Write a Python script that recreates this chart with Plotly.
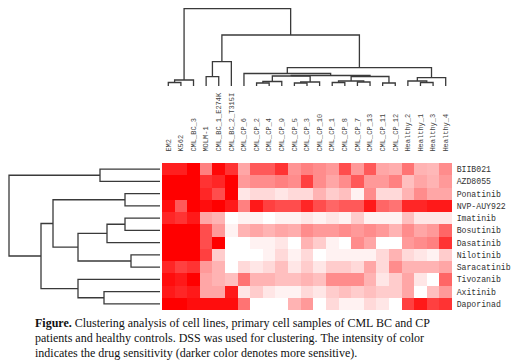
import plotly.graph_objects as go

# ---------------- data ----------------
samples = ["EM2", "K562", "CML_BC_3", "MOLM-1", "CML_BC_1_E274K", "CML_BC_2_T315I",
           "CML_CP_6", "CML_CP_2", "CML_CP_4", "CML_CP_9", "CML_CP_5", "CML_CP_3",
           "CML_CP_10", "CML_CP_1", "CML_CP_8", "CML_CP_7", "CML_CP_13", "CML_CP_11",
           "CML_CP_12", "Healthy_2", "Healthy_1", "Healthy_3", "Healthy_4"]
drugs = ["BIIB021", "AZD8055", "Ponatinib", "NVP-AUY922", "Imatinib", "Bosutinib",
         "Dasatinib", "Nilotinib", "Saracatinib", "Tivozanib", "Axitinib", "Daporinad"]

# relative drug sensitivity (0 = white, 1 = full red), rows = drugs, cols = samples
dss_BIIB021 = [0.88, 0.88, 1.0, 0.5, 0.97, 0.8, 0.35, 0.65, 0.65, 0.8, 0.42, 0.5, 0.45, 0.4, 0.7, 0.4, 0.65, 0.35, 0.32, 0.55, 0.3, 0.28, 0.45]
dss_AZD8055 = [1.0, 1.0, 1.0, 0.8, 0.85, 1.0, 0.4, 0.45, 0.45, 0.5, 0.45, 0.75, 0.45, 0.35, 0.45, 0.65, 0.4, 0.4, 0.5, 0.25, 0.35, 0.3, 0.4]
dss_Ponatinib = [1.0, 1.0, 1.0, 0.85, 0.7, 1.0, 0.1, 0.15, 0.15, 0.1, 0.15, 0.15, 0.3, 0.2, 0.25, 0.05, 0.45, 0.15, 0.15, 0.3, 0.45, 0.35, 0.35]
dss_NVP = [0.95, 0.65, 1.0, 0.95, 1.0, 0.9, 0.5, 0.9, 0.75, 0.7, 0.7, 0.85, 0.7, 0.6, 0.65, 0.65, 0.9, 0.6, 0.55, 0.85, 0.85, 0.9, 0.9]
dss_Imatinib = [0.85, 0.8, 0.9, 0.35, 0.3, 0.0, 0.05, 0.05, 0.0, 0.05, 0.05, 0.1, 0.05, 0.1, 0.05, 0.2, 0.05, 0.05, 0.05, 0.25, 0.1, 0.1, 0.1]
dss_Bosutinib = [1.0, 1.0, 1.0, 0.7, 0.4, 0.05, 0.3, 0.35, 0.3, 0.35, 0.32, 0.45, 0.4, 0.4, 0.45, 0.4, 0.45, 0.4, 0.3, 0.45, 0.35, 0.4, 0.6]
dss_Dasatinib = [1.0, 1.0, 1.0, 0.7, 1.0, 0.0, 0.0, 0.05, 0.05, 0.1, 0.0, 0.3, 0.2, 0.05, 0.0, 0.45, 0.35, 0.0, 0.0, 0.4, 0.45, 0.5, 0.8]
dss_Nilotinib = [1.0, 1.0, 1.0, 0.75, 0.2, 0.0, 0.0, 0.0, 0.05, 0.15, 0.05, 0.15, 0.0, 0.05, 0.05, 0.05, 0.05, 0.15, 0.3, 0.15, 0.1, 0.05, 0.2]
dss_Saracatinib = [0.85, 0.75, 0.8, 0.4, 0.3, 0.0, 0.15, 0.1, 0.15, 0.25, 0.1, 0.2, 0.1, 0.2, 0.2, 0.15, 0.35, 0.15, 0.45, 0.3, 0.3, 0.3, 0.35]
dss_Tivozanib = [0.95, 0.9, 1.0, 0.35, 0.3, 0.25, 0.55, 0.3, 0.3, 0.25, 0.25, 0.3, 0.25, 0.45, 0.45, 0.45, 0.3, 0.1, 0.2, 0.35, 0.1, 0.0, 0.6]
dss_Axitinib = [0.9, 0.85, 0.9, 0.35, 0.35, 0.9, 0.1, 0.2, 0.1, 0.05, 0.05, 0.15, 0.1, 0.2, 0.25, 0.2, 0.25, 0.2, 0.2, 0.35, 0.0, 0.25, 0.4]
dss_Daporinad = [1.0, 1.0, 0.95, 0.95, 0.95, 0.95, 0.55, 0.0, 0.0, 0.0, 0.3, 0.4, 0.0, 0.15, 0.05, 0.05, 0.15, 0.1, 0.0, 0.75, 0.9, 0.75, 0.8]

# dendrogram merges: (node id, child a, child b, height)
col_merges = [
    ("c1", "EM2", "K562", 3.5), ("c2", "c1", "CML_BC_3", 6),
    ("c3", "MOLM-1", "CML_BC_1_E274K", 9.3), ("c4", "c3", "CML_BC_2_T315I", 24.3),
    ("c5", "CML_CP_2", "CML_CP_4", 3), ("c6", "c5", "CML_CP_9", 4.5),
    ("c7", "CML_CP_5", "CML_CP_3", 3), ("c8", "c7", "CML_CP_10", 4),
    ("c9", "CML_CP_1", "CML_CP_8", 3.5), ("c10", "CML_CP_7", "CML_CP_13", 4),
    ("c11", "c9", "c10", 5), ("c12", "CML_CP_11", "CML_CP_12", 3),
    ("c13", "c6", "c8", 10), ("c14", "c11", "c12", 9.5), ("c15", "c13", "c14", 10.5),
    ("c16", "CML_CP_6", "c15", 12.5),
    ("c17", "Healthy_1", "Healthy_3", 3.5), ("c18", "Healthy_2", "c17", 5),
    ("c19", "c18", "Healthy_4", 8.3),
    ("c20", "c16", "c19", 18.3), ("c21", "c4", "c20", 51), ("c22", "c2", "c21", 77.5),
]
row_merges = [
    ("r1", "BIIB021", "AZD8055", 60), ("r2", "Ponatinib", "NVP-AUY922", 35),
    ("r3", "Imatinib", "Bosutinib", 35), ("r4", "r3", "Dasatinib", 53),
    ("r5", "Nilotinib", "Saracatinib", 29), ("r6", "r4", "r5", 82),
    ("r7", "r2", "r6", 107), ("r8", "Axitinib", "Daporinad", 56),
    ("r9", "Tivozanib", "r8", 82), ("r10", "r7", "r9", 119), ("r11", "r1", "r10", 151),
]

caption_lines = [
    "<b>Figure.</b> Clustering analysis of cell lines, primary cell samples of CML BC and CP",
    "patients and healthy controls. DSS was used for clustering. The intensity of color",
    "indicates the drug sensitivity (darker color denotes more sensitive).",
]

z = [dss_BIIB021, dss_AZD8055, dss_Ponatinib, dss_NVP, dss_Imatinib, dss_Bosutinib,
     dss_Dasatinib, dss_Nilotinib, dss_Saracatinib, dss_Tivozanib, dss_Axitinib, dss_Daporinad]


def dendro_segments(leaves, merges):
    pos = {name: i for i, name in enumerate(leaves)}
    hgt = {name: 0.0 for name in leaves}
    segs = []
    for nid, a, b, h in merges:
        segs.append(([pos[a], pos[a], pos[b], pos[b]], [hgt[a], h, h, hgt[b]]))
        pos[nid] = (pos[a] + pos[b]) / 2
        hgt[nid] = h
    return segs


# the page body has an 8 px margin, so the figure is 8 px smaller and shifted
OFF = 8
W, H = 520 - OFF, 361 - OFF


def px(xp):
    return (xp - OFF) / W


def py(yp):
    return 1 - (yp - OFF) / H


hm_x0, hm_x1 = px(162), px(452)
hm_y0, hm_y1 = py(310), py(163)

fig = go.Figure()
fig.add_trace(go.Heatmap(
    z=z, x=list(range(len(samples))), y=list(range(len(drugs))),
    colorscale=[[0, "#ffffff"], [1, "#ff0000"]], zmin=0, zmax=1,
    showscale=False, xaxis="x", yaxis="y", xgap=0, ygap=0,
))

line_style = dict(color="#3a3a3a", width=1.3)
for sx, sy in dendro_segments(samples, col_merges):
    fig.add_trace(go.Scatter(x=sx, y=sy, mode="lines", line=line_style,
                             xaxis="x2", yaxis="y2", hoverinfo="skip",
                             showlegend=False, cliponaxis=False))
for sy, sx in dendro_segments(drugs, row_merges):
    fig.add_trace(go.Scatter(x=sx, y=sy, mode="lines", line=line_style,
                             xaxis="x3", yaxis="y3", hoverinfo="skip",
                             showlegend=False, cliponaxis=False))

mono = "Liberation Mono, DejaVu Sans Mono, monospace"
n_c, n_r = len(samples), len(drugs)
fig.update_layout(
    width=W, height=H, margin=dict(l=0, r=0, t=0, b=0),
    paper_bgcolor="white", plot_bgcolor="white", showlegend=False,
    xaxis=dict(domain=[hm_x0, hm_x1], range=[-0.5, n_c - 0.5], side="top",
               tickmode="array", tickvals=list(range(n_c)), ticktext=samples,
               tickangle=-90, tickfont=dict(family=mono, size=7, color="#444"),
               ticks="outside", ticklen=9, tickcolor="rgba(0,0,0,0)",
               showgrid=False, zeroline=False, showline=False),
    yaxis=dict(domain=[hm_y0, hm_y1], range=[n_r - 0.5, -0.5], side="right",
               tickmode="array", tickvals=list(range(n_r)), ticktext=drugs,
               tickfont=dict(family=mono, size=8.2, color="#333"),
               ticks="outside", ticklen=2, tickcolor="rgba(0,0,0,0)",
               showgrid=False, zeroline=False, showline=False),
    xaxis2=dict(domain=[hm_x0, hm_x1], range=[-0.5, n_c - 0.5], anchor="y2",
                visible=False),
    yaxis2=dict(domain=[py(90), 1.0], range=[-4, 90 - OFF - 4], anchor="x2",
                visible=False),
    xaxis3=dict(domain=[0, hm_x0], range=[160 - OFF, -2], anchor="y3", visible=False),
    yaxis3=dict(domain=[hm_y0, hm_y1], range=[n_r - 0.5, -0.5], anchor="x3",
                visible=False),
)

for i, txt in enumerate(caption_lines):
    fig.add_annotation(
        text=txt, xref="paper", yref="paper", x=px(33), y=py(322.5 + 15 * i),
        xanchor="left", yanchor="middle", showarrow=False, align="left",
        font=dict(family="Liberation Serif, serif", size=12, color="#111"),
    )

fig.write_html("out.html")
